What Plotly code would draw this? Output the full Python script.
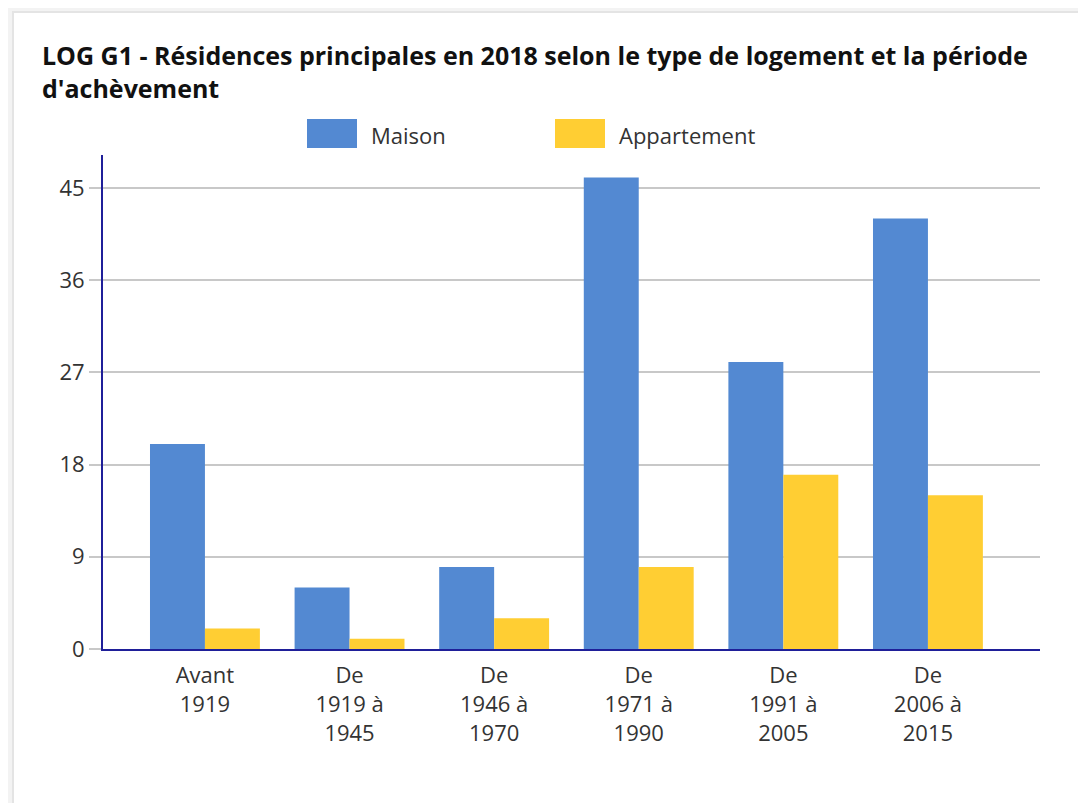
import plotly.graph_objects as go

categories = ["Avant<br>1919", "De<br>1919 à<br>1945", "De<br>1946 à<br>1970",
              "De<br>1971 à<br>1990", "De<br>1991 à<br>2005", "De<br>2006 à<br>2015"]
maison = [20, 6, 8, 46, 28, 42]
appartement = [2, 1, 3, 8, 17, 15]
series_names = ["Maison", "Appartement"]
colors = ["#5389d2", "#ffce33"]
y_ticks = [0, 9, 18, 27, 36, 45]
title_text = "LOG G1 - Résidences principales en 2018 selon le type de logement et la période<br>d'achèvement"

W, H = 1086, 803
OFF = 8  # page body margin
# plot area in page pixels
PX0, PX1, PY0, PY1 = 103, 1040, 155, 649
L, R, T, B = PX0 - OFF, W - (PX1 - OFF), PY0 - OFF, H - (PY1 - OFF)
pw, ph = W - L - R, H - T - B


def px(x):
    return (x - OFF - L) / pw


def py(y):
    return (H - B - (y - OFF)) / ph


fig = go.Figure()
for name, vals, col in zip(series_names, [maison, appartement], colors):
    fig.add_trace(go.Bar(x=list(range(len(categories))), y=vals, name=name,
                         marker=dict(color=col, line=dict(width=0)),
                         showlegend=False))

shapes = [
    dict(type="rect", xref="paper", yref="paper", x0=px(13), x1=px(W + 20),
         y0=py(H + 20), y1=py(12), fillcolor="white", line=dict(color="#e4e4e4", width=2),
         layer="below"),
]
annotations = [
    dict(text="<b>" + title_text + "</b>", xref="paper", yref="paper",
         x=px(40), y=py(36), xanchor="left", yanchor="top", align="left",
         showarrow=False, font=dict(family="Open Sans", size=25, color="#111111")),
]
legend_x = [307, 555]
for name, col, lx in zip(series_names, colors, legend_x):
    shapes.append(dict(type="rect", xref="paper", yref="paper", x0=px(lx), x1=px(lx + 50),
                       y0=py(148), y1=py(119), fillcolor=col, line=dict(width=0)))
    annotations.append(dict(text=name, xref="paper", yref="paper", x=px(lx + 62), y=py(135),
                            xanchor="left", yanchor="middle", showarrow=False,
                            font=dict(family="Open Sans", size=22, color="#333333")))

fig.update_layout(
    width=W, height=H,
    margin=dict(l=L, r=R, t=T, b=B),
    paper_bgcolor="#f3f3f3",
    plot_bgcolor="white",
    barmode="group",
    bargap=0.24,
    bargroupgap=0,
    font=dict(family="Open Sans", size=22, color="#333333"),
    shapes=shapes,
    annotations=annotations,
    xaxis=dict(
        tickmode="array", tickvals=list(range(len(categories))), ticktext=categories,
        range=[-0.705, 5.775], showgrid=False, showline=True, linecolor="#1f1f99",
        linewidth=2, ticks="", zeroline=False, tickfont=dict(size=22, color="#333333"),
        ticklabelstandoff=6,
    ),
    yaxis=dict(
        range=[0, 48.2], tickmode="array", tickvals=y_ticks, showgrid=True,
        gridcolor="#c8c8c8", gridwidth=2, showline=True, linecolor="#1f1f99", linewidth=2,
        ticks="outside", ticklen=12, tickcolor="#c8c8c8", tickwidth=2, zeroline=False,
        tickfont=dict(size=22, color="#333333"),
    ),
)

fig.write_html("out.html")
